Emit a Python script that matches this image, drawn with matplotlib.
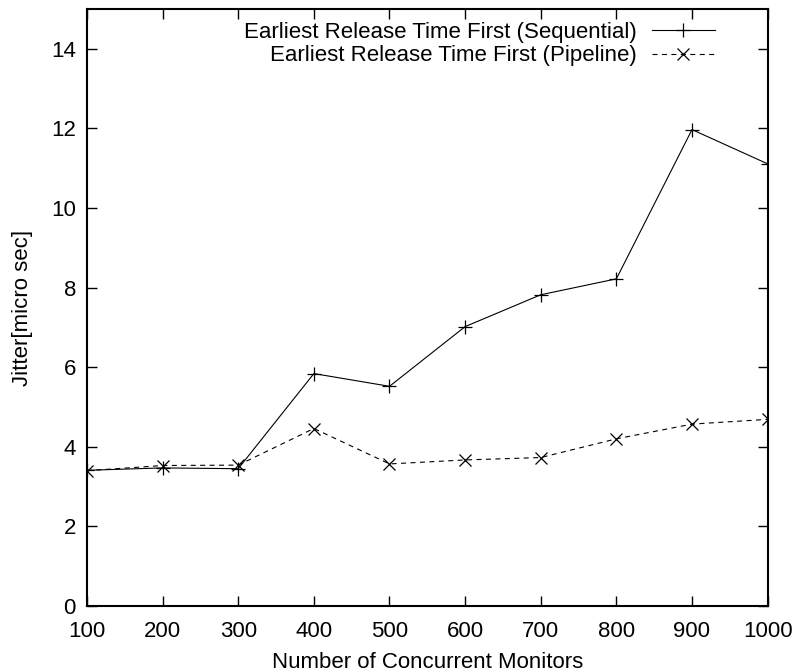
import matplotlib
matplotlib.use("Agg")
import matplotlib.pyplot as plt

# data
monitors = [100, 200, 300, 400, 500, 600, 700, 800, 900, 1000]
sequential = [3.41, 3.47, 3.45, 5.84, 5.52, 7.02, 7.82, 8.22, 11.97, 11.11]
pipeline = [3.40, 3.53, 3.54, 4.46, 3.57, 3.67, 3.73, 4.20, 4.57, 4.69]
yticks = [0, 2, 4, 6, 8, 10, 12, 14]

plt.rcParams["font.family"] = ["Liberation Sans", "DejaVu Sans"]
plt.rcParams["font.size"] = 16

fig = plt.figure(figsize=(7.93, 6.72), dpi=100)
ax = fig.add_axes([0.1097, 0.0982, 0.968 - 0.1097, 0.9866 - 0.0982])

ax.plot(monitors, sequential, color="black", lw=0.8, marker="+", ms=10, mew=0.9,
        label="Earliest Release Time First (Sequential)")
ax.plot(monitors, pipeline, color="black", lw=0.8, ls=(0, (4.5, 4)), marker="x", ms=8, mew=0.9,
        label="Earliest Release Time First (Pipeline)")

ax.set_xlim(100, 1000)
ax.set_ylim(0, 15)
ax.set_xticks(monitors)
ax.set_yticks(yticks)
ax.tick_params(direction="in", length=7, width=1.0, top=True, right=True)
ax.tick_params(axis="x", pad=11)
ax.tick_params(axis="y", pad=8)
for s in ax.spines.values():
    s.set_linewidth(1.5)

ax.set_xlabel("Number of Concurrent Monitors", labelpad=7)
ax.set_ylabel("Jitter[micro sec]", labelpad=13)

ax.legend(loc="upper right", bbox_to_anchor=(0.9226, 0.978), frameon=False,
          markerfirst=False, handlelength=2.85, handletextpad=0.65,
          labelspacing=0.1, borderpad=0, borderaxespad=0)

fig.savefig("out.png", dpi=100)
